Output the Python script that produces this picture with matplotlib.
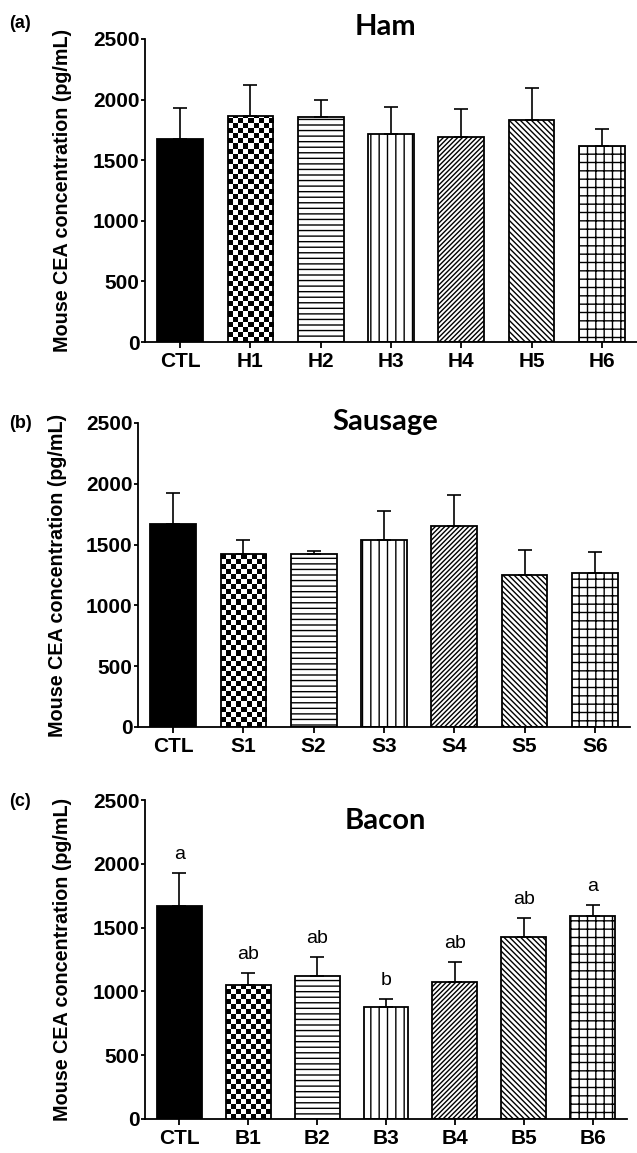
import numpy as np
import matplotlib
matplotlib.use("Agg")
import matplotlib.pyplot as plt

# values (mean and upper SD)
ham_labels = ['CTL', 'H1', 'H2', 'H3', 'H4', 'H5', 'H6']
ham_mean = [1673, 1867, 1856, 1716, 1691, 1834, 1614]
ham_sd = [255, 251, 144, 226, 231, 259, 141]

sausage_labels = ['CTL', 'S1', 'S2', 'S3', 'S4', 'S5', 'S6']
sausage_mean = [1673, 1423, 1423, 1536, 1651, 1253, 1264]
sausage_sd = [255, 118, 28, 239, 258, 203, 178]

bacon_labels = ['CTL', 'B1', 'B2', 'B3', 'B4', 'B5', 'B6']
bacon_mean = [1673, 1053, 1121, 878, 1074, 1426, 1594]
bacon_sd = [255, 91, 151, 62, 154, 152, 86]
bacon_letters = ['a', 'ab', 'ab', 'b', 'ab', 'ab', 'a']

# fill style per group position
patterns = ['solid', 'checker', '---', '||', '///////', '\\\\\\\\\\\\', '++']

plt.rcParams['font.family'] = ['Liberation Sans', 'DejaVu Sans']
plt.rcParams['hatch.linewidth'] = 1.0

W, H = 637, 1153
fig = plt.figure(figsize=(W / 100, H / 100), dpi=100)


def px_axes(left, right, top, bottom):
    return fig.add_axes([left / W, 1 - bottom / H, (right - left) / W, (bottom - top) / H])


def draw_panel(ax, labels, means, sds, letters=None):
    n = len(labels)
    x = np.arange(n)
    bars = ax.bar(x, means, width=0.65, color='white', edgecolor='black',
                  linewidth=1.3, zorder=2)
    pos = ax.get_position()
    xpx = pos.width * W / 7.0
    ypx = pos.height * H / 2500.0
    for b, pat in zip(bars, patterns):
        if pat == 'solid':
            b.set_facecolor('black')
        elif pat == 'checker':
            b.set_facecolor('none')
            x0, w, h = b.get_x(), b.get_width(), b.get_height()
            ncols = 9
            cell_h = (w * xpx / ncols) / ypx
            nrows = int(np.ceil(h / cell_h))
            board = np.add.outer(np.arange(nrows), np.arange(ncols)) % 2
            im = ax.imshow(board, cmap='gray_r', extent=(x0, x0 + w, 0, nrows * cell_h),
                           origin='lower', interpolation='nearest', aspect='auto', zorder=1.5)
            im.set_clip_path(b)
        else:
            b.set_hatch(pat)
    ax.errorbar(x, means, yerr=[np.zeros(n), sds], fmt='none', ecolor='black',
                elinewidth=1.2, capsize=5, capthick=1.2, zorder=3)
    if letters:
        for i, lt in enumerate(letters):
            ax.text(x[i], means[i] + sds[i] + 110, lt, ha='center', va='baseline', fontsize=14)
    ax.set_xlim(-0.5, n - 0.5)
    ax.set_ylim(0, 2500)
    ax.set_yticks(range(0, 2501, 500))
    ax.set_xticks(x)
    ax.set_xticklabels(labels, fontweight='bold', fontsize=15)
    for t in ax.get_yticklabels():
        t.set_fontweight('bold')
        t.set_fontsize(15)
    for s in ['top', 'right']:
        ax.spines[s].set_visible(False)
    for s in ['left', 'bottom']:
        ax.spines[s].set_linewidth(1.3)
    ax.tick_params(axis='y', length=3, width=1.3, pad=1)
    ax.tick_params(axis='x', length=4.3, width=1.3, pad=3)
    ax.set_ylabel('Mouse CEA concentration (pg/mL)', fontsize=14.2, fontweight='bold')


ax_a = px_axes(145, 637, 39, 342)
draw_panel(ax_a, ham_labels, ham_mean, ham_sd)
ax_a.yaxis.set_label_coords((72 - 145) / 492, 0.5)

ax_b = px_axes(138, 630, 423, 727)
draw_panel(ax_b, sausage_labels, sausage_mean, sausage_sd)
ax_b.yaxis.set_label_coords((67 - 138) / 492, 0.5)

ax_c = px_axes(145, 627, 800, 1119)
draw_panel(ax_c, bacon_labels, bacon_mean, bacon_sd, bacon_letters)
ax_c.yaxis.set_label_coords((72 - 145) / 482, 0.5)

for name, base in [('Ham', 35), ('Sausage', 430), ('Bacon', 829)]:
    fig.text(385 / W, 1 - base / H, name, ha='center', va='baseline',
             fontsize=21, fontweight='bold', family=['Lato', 'DejaVu Sans'])

for lab, cy in [('(a)', 23), ('(b)', 424), ('(c)', 802)]:
    fig.text(9 / W, 1 - cy / H, lab, ha='left', va='center', fontsize=13, fontweight='bold')

fig.savefig('out.png', dpi=100)
